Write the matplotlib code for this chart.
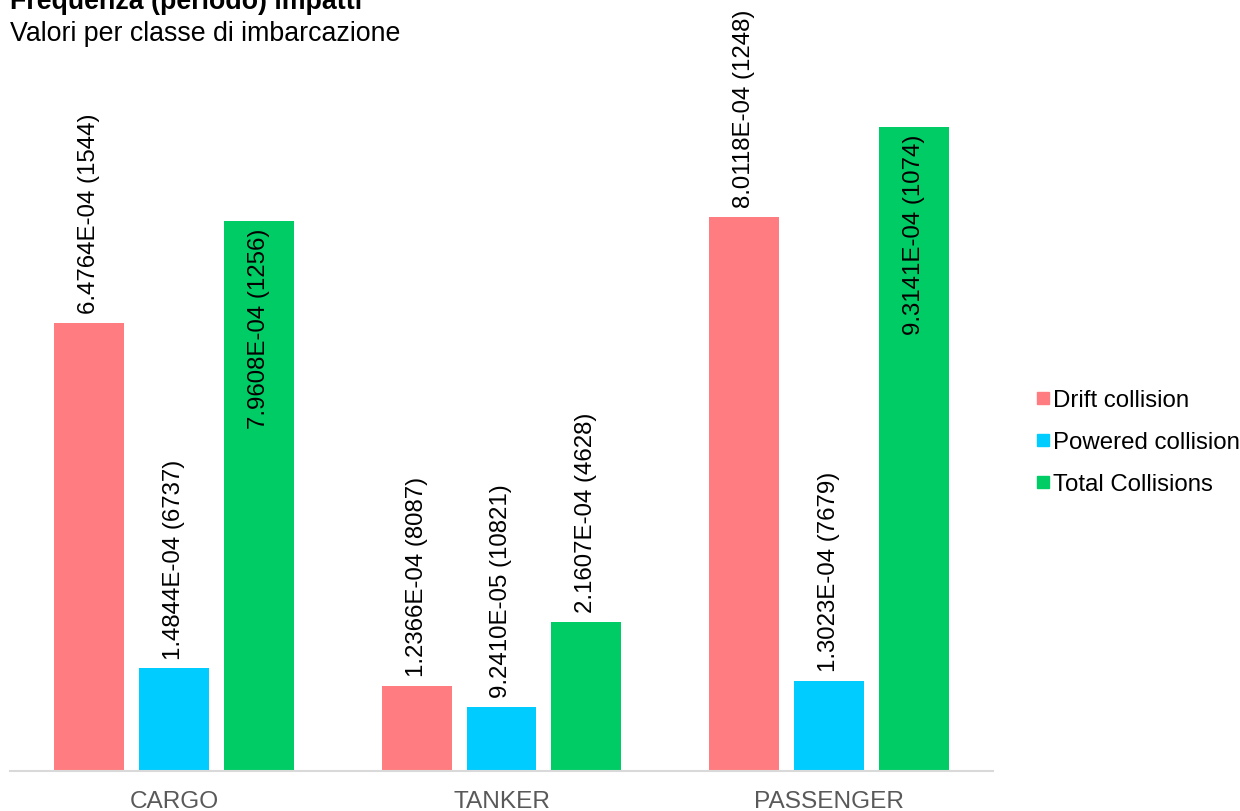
import matplotlib
matplotlib.use("Agg")
import matplotlib.pyplot as plt
from matplotlib.lines import Line2D
import numpy as np

plt.rcParams['font.family'] = ['Liberation Sans', 'DejaVu Sans']

categories = ["CARGO", "TANKER", "PASSENGER"]
series_names = ["Drift collision", "Powered collision", "Total Collisions"]
drift = [6.4764e-04, 1.2366e-04, 8.0118e-04]
powered = [1.4844e-04, 9.2410e-05, 1.3023e-04]
total = [7.9608e-04, 2.1607e-04, 9.3141e-04]
drift_period = [1544, 8087, 1248]
powered_period = [6737, 10821, 7679]
total_period = [1256, 4628, 1074]

colors = ["#FF7C80", "#00CCFF", "#00CC66"]
values = [drift, powered, total]
periods = [drift_period, powered_period, total_period]

W, H = 1240, 812
fig = plt.figure(figsize=(W / 100, H / 100), dpi=100)
ax = fig.add_axes([10 / W, (H - 772) / H, (993 - 10) / W, (772 - 20) / H])

x = np.arange(len(categories))
bw = 0.213
step = 0.259
fs = 17.3

for i, (vals, per, col, name) in enumerate(zip(values, periods, colors, series_names)):
    pos = x + (i - 1) * step
    bars = ax.bar(pos, vals, width=bw, color=col, label=name, zorder=2)
    for b, v, p in zip(bars, vals, per):
        lab = f"{v:.4E}" + f" ({p})"
        cx = b.get_x() + b.get_width() / 2
        if i == 2 and v > 5e-4:
            ax.annotate(lab, (cx, v), xytext=(0, -5), textcoords="offset points",
                        rotation=90, ha="center", va="top", fontsize=fs,
                        color="black", annotation_clip=False)
        else:
            ax.annotate(lab, (cx, v), xytext=(0, 7), textcoords="offset points",
                        rotation=90, ha="center", va="bottom", fontsize=fs,
                        color="black", annotation_clip=False)

ax.set_xlim(-0.5, 2.5)
ax.set_ylim(0, 752 / 691.4 * 1e-3)
ax.set_xticks(x)
ax.set_xticklabels(categories, fontsize=17.6, color="#595959")
ax.tick_params(axis="x", length=0, pad=13.5)
ax.set_yticks([])
for s in ["top", "right", "left"]:
    ax.spines[s].set_visible(False)
ax.spines["bottom"].set_color("#D9D9D9")
ax.spines["bottom"].set_linewidth(1.5)
ax.set_facecolor("none")

handles = [Line2D([], [], marker="s", linestyle="none", markersize=8,
                  markerfacecolor=c, markeredgecolor=c) for c in colors]
fig.legend(handles, series_names, loc="center left",
           bbox_to_anchor=(1037 / W, 1 - 443 / H), frameon=False,
           fontsize=fs, handlelength=0.5, handletextpad=0.15,
           labelspacing=0.83, borderpad=0, borderaxespad=0)

fig.text(10 / W, 1 - 9 / H, "Frequenza (periodo) impatti", fontsize=19.3,
         fontweight="bold", ha="left", va="baseline")
fig.text(10 / W, 1 - 41 / H, "Valori per classe di imbarcazione", fontsize=19.3,
         ha="left", va="baseline")

fig.savefig("out.png", dpi=100)
